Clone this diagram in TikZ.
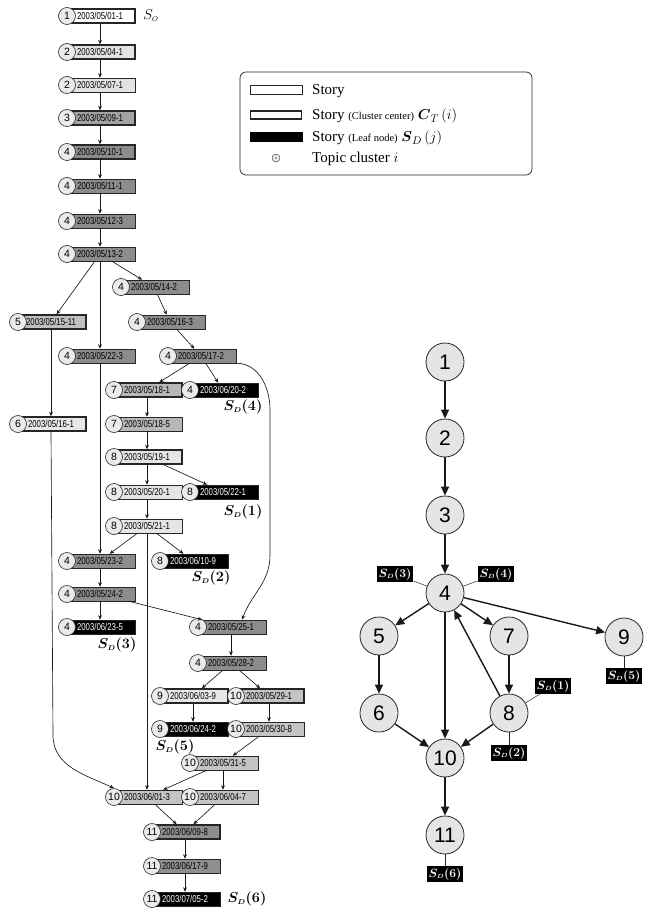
\documentclass[tikz,border=0pt]{standalone}
\usepackage[no-math]{fontspec}
\usepackage{amsmath}
\setmainfont{Liberation Serif}
\newfontfamily\labfont{Liberation Sans}
\usetikzlibrary{shadows,arrows.meta}

\definecolor{cl1}{gray}{1.00}
\definecolor{cl2}{gray}{0.89}
\definecolor{cl3}{gray}{0.64}
\definecolor{cl4}{gray}{0.55}
\definecolor{cl5}{gray}{0.75}
\definecolor{cl6}{gray}{0.91}
\definecolor{cl7}{gray}{0.72}
\definecolor{cl8}{gray}{0.90}
\definecolor{cl9}{gray}{0.91}
\definecolor{cl10}{gray}{0.77}
\definecolor{cl11}{gray}{0.56}

\newcommand{\dt}[1]{{\labfont\fontsize{10}{10}\selectfont\scalebox{0.78}[1]{#1}}}
\newcommand{\sdl}[1]{$\boldsymbol{S_{\scriptscriptstyle D}(#1)}$}

\begin{document}
\begin{tikzpicture}[x=1pt, y=1pt,
  storybox/.style={draw=black!85, line width=0.5pt, minimum width=70pt, minimum height=14pt, inner sep=0pt,
    drop shadow={shadow xshift=1.3pt, shadow yshift=-1.3pt, fill=black!85, opacity=1}},
  centerbox/.style={storybox, line width=1.4pt},
  leafbox/.style={storybox, fill=black, text=white},
  topic/.style={circle, draw=black!85, fill=black!8, line width=0.6pt, minimum size=17pt, inner sep=0pt,
    font=\labfont\fontsize{10.5}{10.5}\selectfont},
  topicbig/.style={circle, draw=black!85, fill=black!10, line width=0.8pt, minimum size=38pt, inner sep=0pt,
    font=\labfont\fontsize{21}{21}\selectfont},
  sdtext/.style={inner sep=0pt, font=\fontsize{14}{14}\selectfont},
  sdbox/.style={fill=black, text=white, inner sep=2pt, font=\fontsize{12.5}{12.5}\selectfont},
  keytext/.style={anchor=base west, inner sep=0pt, font=\fontsize{15}{15}\selectfont}]
  \useasboundingbox (0,0) rectangle (655,-909);
  % stories: name/x/y/cluster/month/day/no/kind
  \foreach \nm/\px/\py/\cl/\mo/\dy/\sx/\kd in {
      s01/67/16/1/05/01/1/centerbox, s04/67/52/2/05/04/1/centerbox, s07/67/85/2/05/07/1/storybox,
      s09/67/118/3/05/09/1/centerbox, s10/67/152/4/05/10/1/centerbox, s11/67/186/4/05/11/1/storybox,
      s12/67/221/4/05/12/3/storybox, s13/67/254/4/05/13/2/storybox, s14/121/287/4/05/14/2/storybox,
      s15/18/322/5/05/15/11/centerbox, s16/137/322/4/05/16/3/storybox, s22/67/356/4/05/22/3/storybox,
      s17/168/356/4/05/17/2/storybox, s18a/114/390/7/05/18/1/centerbox, l4/190/390/4/06/20/2/leafbox,
      s616/18/424/6/05/16/1/centerbox, s18b/114/424/7/05/18/5/storybox, s19/114/457/8/05/19/1/centerbox,
      s20/114/492/8/05/20/1/storybox, l1/190/492/8/05/22/1/leafbox, s21/114/526/8/05/21/1/storybox,
      s23/67/561/4/05/23/2/storybox, l2/160/561/8/06/10/9/leafbox, s24/67/594/4/05/24/2/storybox,
      l3/67/627/4/06/23/5/leafbox, s25/198/627/4/05/25/1/storybox, s28/198/663/4/05/28/2/storybox,
      s603/160/696/9/06/03/9/centerbox, s29/236/696/10/05/29/1/centerbox, l5/160/729/9/06/24/2/leafbox,
      s30/236/729/10/05/30/8/storybox, s31/190/763/10/05/31/5/storybox, s601/114/797/10/06/01/3/storybox,
      s604/190/797/10/06/04/7/storybox, s609/152/832/11/06/09/8/centerbox, s617/152/866/11/06/17/9/storybox,
      l6/152/899/11/07/05/2/leafbox} {
    \node[fill=cl\cl, \kd] (\nm) at (\px+33,-\py) {\dt{2003/\mo/\dy-\sx}};
    \node[topic] (c\nm) at (\px,-\py) {\cl};
  }
  %
  \foreach \a/\b in {s01/s04, s04/s07, s07/s09, s09/s10, s10/s11, s11/s12, s12/s13, s13/s15, s13/s22,
      s13/s14, s14/s16, s16/s17, s17/s18a, s17/l4, s15/s616, s22/s23, s18a/s18b, s18b/s19, s19/s20,
      s19/l1, s20/s21, s21/s23, s21/l2, s21/s601, s23/s24, s24/l3, s24/s25, s25/s28, s28/s603, s28/s29,
      s603/l5, s29/s30, s30/s31, s31/s601, s31/s604, s601/s609, s604/s609, s609/s617, s617/l6}
    \draw[->, >={Stealth[length=4.5pt, width=3.8pt]}, black!90, line width=0.65pt] (\a) -- (\b);
  %
  \coordinate (bendA) at (270,-410);
  \coordinate (bendB) at (270,-555);
  \coordinate (bendC) at (53,-735);
  \draw[->, >={Stealth[length=4.5pt, width=3.8pt]}, black!90, line width=0.65pt]
    (s17.south east) to[out=0, in=90] (bendA) -- (bendB) to[out=-90, in=70] ([xshift=11pt]s25.north);
  \draw[->, >={Stealth[length=4.5pt, width=3.8pt]}, black!90, line width=0.65pt]
    (s616.south) -- (bendC) to[out=-90, in=155] (cs601.north);
  %
  \node[sdtext] (so) at (151,-16) {$S_{\scriptscriptstyle O}$};
  \node[sdtext] (lsd4) at (243,-407) {\sdl{4}};
  \node[sdtext] (lsd1) at (243,-512) {\sdl{1}};
  \node[sdtext] (lsd2) at (211,-578) {\sdl{2}};
  \node[sdtext] (lsd3) at (117,-645) {\sdl{3}};
  \node[sdtext] (lsd5) at (175,-747) {\sdl{5}};
  \node[sdtext] (lsd6) at (247,-899) {\sdl{6}};
  %
  % legend
  \node[draw=black!85, rounded corners=6pt, line width=0.7pt, minimum width=292pt, minimum height=103pt] (legend) at (386,-123.5) {};
  \node[draw=black!85, line width=0.5pt, minimum width=52pt, minimum height=9pt, inner sep=0pt] (key1) at (276,-90) {};
  \node[draw=black!85, line width=1.4pt, minimum width=51pt, minimum height=8pt, inner sep=0pt] (key2) at (276,-115) {};
  \node[fill=black, minimum width=53pt, minimum height=10pt, inner sep=0pt] (key3) at (276,-137) {};
  \node[circle, draw=black!85, fill=black!8, minimum size=8pt, inner sep=0pt, font=\fontsize{5}{5}\selectfont] (key4) at (276,-158) {$i$};
  \node[keytext] (txt1) at (312,-95) {Story};
  \node[keytext] (txt2) at (312,-120) {Story {\fontsize{10.5}{11}\selectfont(Cluster center)} $\boldsymbol{C}_{T}\,(i)$};
  \node[keytext] (txt3) at (312,-142) {Story {\fontsize{10.5}{11}\selectfont(Leaf node)} $\boldsymbol{S}_{D}\,(j)$};
  \node[keytext] (txt4) at (312,-163) {Topic cluster $i$};
  %
  % topic graph
  \foreach \nm/\px/\py in {1/445/362, 2/445/438, 3/445/515, 4/445/593, 5/379/636, 6/379/713,
      7/509/636, 8/509/713, 9/624/637, 10/445/758, 11/445/835}
    \node[topicbig] (n\nm) at (\px,-\py) {\nm};
  \foreach \a/\b in {1/2, 2/3, 3/4, 4/5, 4/7, 4/9, 4/10, 5/6, 6/10, 7/8, 8/4, 8/10, 10/11}
    \draw[->, >={Triangle[length=9pt, width=8pt]}, black!90, line width=1.4pt] (n\a) -- (n\b);
  %
  \node[sdbox] (r3) at (395,-574) {\sdl{3}};
  \node[sdbox] (r4) at (496,-574) {\sdl{4}};
  \node[sdbox] (r1) at (553,-686) {\sdl{1}};
  \node[sdbox] (r2) at (509,-753) {\sdl{2}};
  \node[sdbox] (r5) at (624,-676) {\sdl{5}};
  \node[sdbox] (r6) at (445,-874) {\sdl{6}};
  \foreach \a/\b in {r3/n4, r4/n4, r1/n8, r2/n8, r5/n9, r6/n11}
    \draw[black!85, line width=0.5pt] (\a) -- (\b);
\end{tikzpicture}
\end{document}
